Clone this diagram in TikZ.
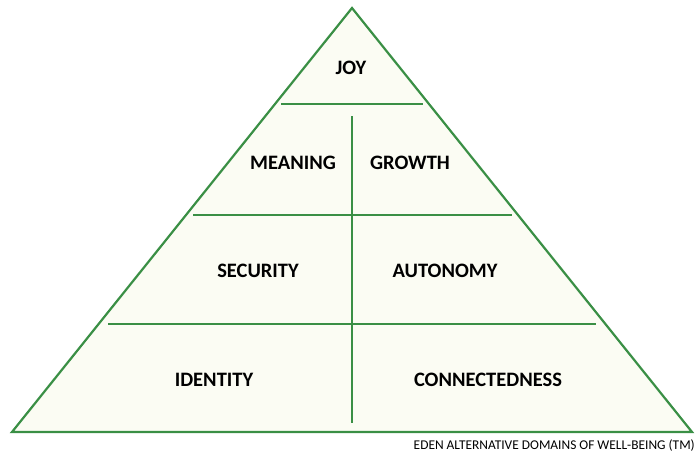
\documentclass[tikz,border=0pt]{standalone}
\usepackage{fontspec}
\setmainfont{Carlito}
\definecolor{pgreen}{HTML}{3A8F45}
\definecolor{pfill}{HTML}{FBFCF3}
\begin{document}
\begin{tikzpicture}[x=1pt,y=-1pt,
  edge/.style={draw=pgreen,line width=2.2pt},
  lbl/.style={font=\bfseries\fontsize{20.5}{24}\selectfont,text=black,inner sep=0pt},
  captext/.style={font=\fontsize{13.4}{15}\selectfont,text=black,inner sep=0pt,anchor=east}]
\useasboundingbox (0,0) rectangle (698,453);
\coordinate (top) at (352,8);
\coordinate (bl) at (12,432);
\coordinate (br) at (692,432);
\filldraw[edge,fill=pfill,line join=miter] (top) -- (bl) -- (br) -- cycle;
\coordinate (l1a) at (281,104); \coordinate (l1b) at (423,104);
\coordinate (l2a) at (193,215); \coordinate (l2b) at (512,215);
\coordinate (l3a) at (108,324); \coordinate (l3b) at (596,324);
\coordinate (va) at (352,116); \coordinate (vb) at (352,423);
\draw[edge] (l1a) -- (l1b);
\draw[edge] (l2a) -- (l2b);
\draw[edge] (l3a) -- (l3b);
\draw[edge] (va) -- (vb);
\node[lbl] (joy) at (351,68) {JOY};
\node[lbl] (meaning) at (293,163) {MEANING};
\node[lbl] (growth) at (410,163) {GROWTH};
\node[lbl] (security) at (258,271) {SECURITY};
\node[lbl] (autonomy) at (445,271) {AUTONOMY};
\node[lbl] (identity) at (214,380) {IDENTITY};
\node[lbl] (connect) at (488,380) {CONNECTEDNESS};
\node[captext] (caption) at (695,446) {EDEN ALTERNATIVE DOMAINS OF WELL-BEING (TM)};
\end{tikzpicture}
\end{document}
